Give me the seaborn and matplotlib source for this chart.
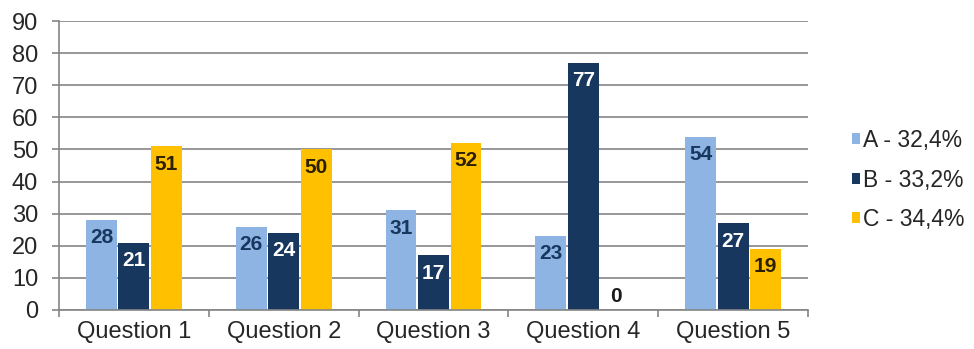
import matplotlib
matplotlib.use("Agg")
import matplotlib.pyplot as plt
from matplotlib.patches import Rectangle
from matplotlib.ticker import FixedLocator
import seaborn as sns
import pandas as pd

questions = ["Question 1", "Question 2", "Question 3", "Question 4", "Question 5"]
series_names = ["A - 32,4%", "B - 33,2%", "C - 34,4%"]
values_a = [28, 26, 31, 23, 54]
values_b = [21, 24, 17, 77, 27]
values_c = [51, 50, 52, 0, 19]
yticks = [0, 10, 20, 30, 40, 50, 60, 70, 80, 90]

colors = ["#8DB4E2", "#17375E", "#FFC000"]
label_colors = ["#17375E", "#FFFFFF", "#2B2000"]

rows = []
for name, vals in zip(series_names, [values_a, values_b, values_c]):
    for q, v in zip(questions, vals):
        rows.append({"question": q, "series": name, "value": v})
df = pd.DataFrame(rows)

sns.set_theme(style="white")
plt.rcParams["font.family"] = ["Liberation Sans", "DejaVu Sans"]

fig = plt.figure(figsize=(9.74, 3.49), dpi=100)
ax = fig.add_axes([59 / 974, 1 - 310 / 349, (808 - 59) / 974, (310 - 21) / 349])

sns.barplot(data=df, x="question", y="value", hue="series", palette=colors,
            width=0.65, gap=0.05, ax=ax, legend=False, saturation=1,
            linewidth=0, errorbar=None)

ax.set_ylim(0, 90)
ax.set_xlim(-0.5, 4.5)
ax.set_yticks(yticks)
ax.yaxis.grid(True, color="#858585", linewidth=1.2)
ax.set_axisbelow(True)
ax.set_xlabel("")
ax.set_ylabel("")

for s in ["top", "right"]:
    ax.spines[s].set_visible(False)
for s in ["left", "bottom"]:
    ax.spines[s].set_visible(True)
    ax.spines[s].set_color("#858585")
    ax.spines[s].set_linewidth(1.2)

ax.tick_params(axis="y", which="major", length=5, width=1.2, color="#858585",
               pad=10, labelsize=17, labelcolor="#262626", left=True)
ax.tick_params(axis="x", which="major", length=0, pad=8, labelsize=17,
               labelcolor="#262626")
ax.xaxis.set_minor_locator(FixedLocator([-0.5, 0.5, 1.5, 2.5, 3.5, 4.5]))
ax.tick_params(axis="x", which="minor", length=5, width=1.2, color="#858585",
               bottom=True)

for container, lc in zip(ax.containers, label_colors):
    for bar in container:
        h = bar.get_height()
        xc = bar.get_x() + bar.get_width() / 2
        if h > 0:
            ax.annotate(f"{int(round(h))}", (xc, h), xytext=(0, -6),
                        textcoords="offset points", ha="center", va="top",
                        fontsize=15, fontweight="bold", color=lc)
        else:
            ax.annotate(f"{int(round(h))}", (xc, h), xytext=(0, 3),
                        textcoords="offset points", ha="center", va="bottom",
                        fontsize=15, fontweight="bold", color="#1A1A1A")

handles = [Rectangle((0, 0), 1, 1, facecolor=c, edgecolor="none") for c in colors]
fig.legend(handles, series_names, loc="center left",
           bbox_to_anchor=(852 / 974, 1 - 180 / 349), frameon=False,
           fontsize=16.5, handlelength=0.35, handleheight=0.35,
           handletextpad=0.15, labelspacing=0.72, borderpad=0,
           borderaxespad=0, labelcolor="#262626")

fig.savefig("out.png", dpi=100)
